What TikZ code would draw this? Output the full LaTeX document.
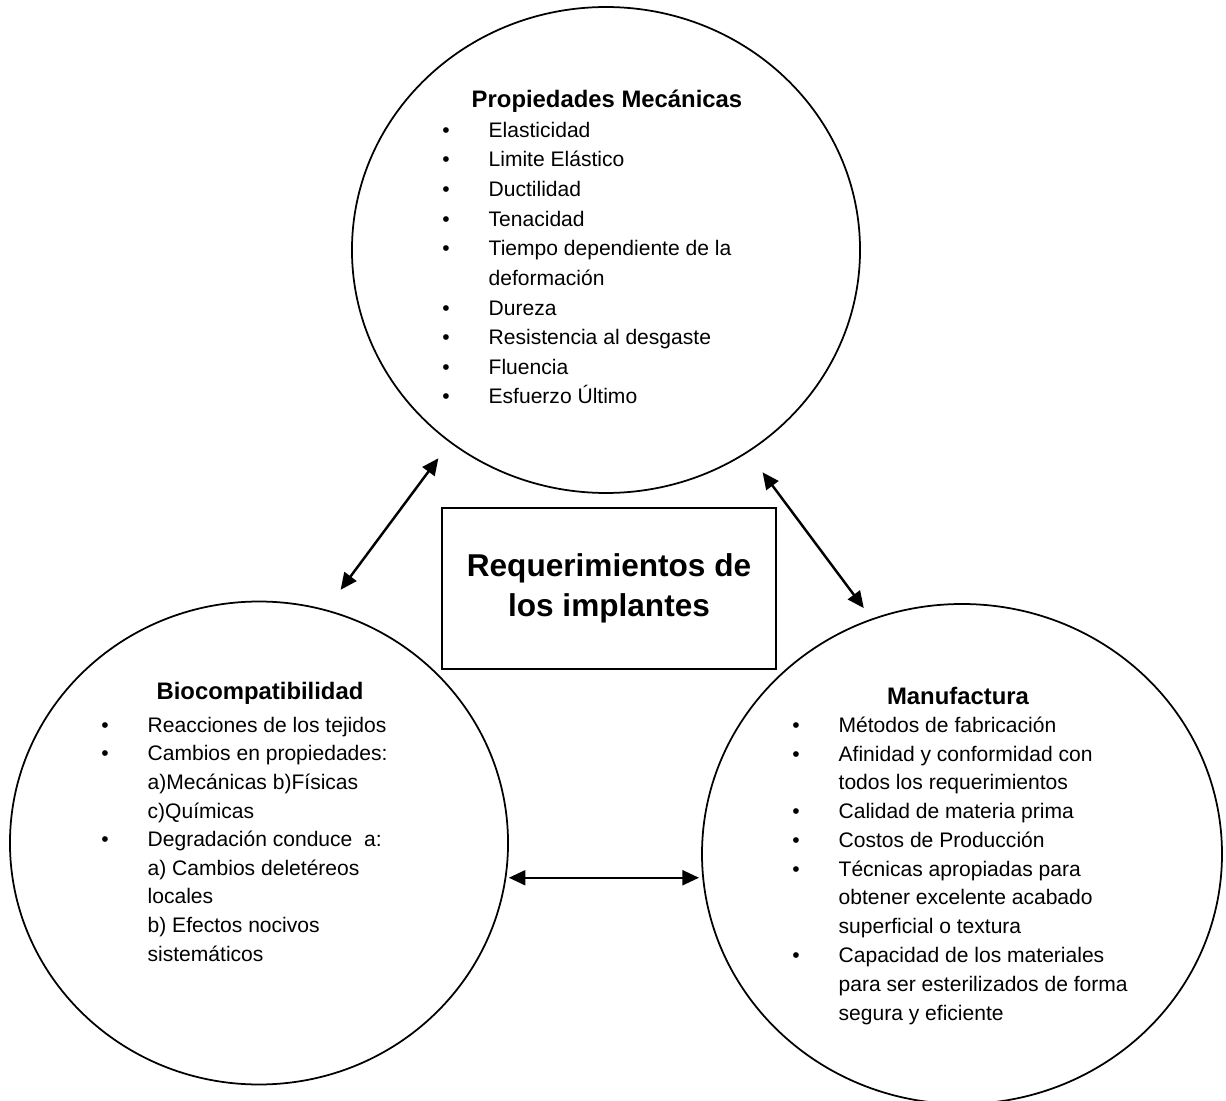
\documentclass[tikz,border=0pt]{standalone}
\usepackage{fontspec}
\setmainfont{Liberation Sans}
\usetikzlibrary{shapes.geometric, arrows.meta, positioning}

\newcommand{\blt}{\makebox[26.4pt][l]{\textbullet}}
\newcommand{\ind}{\hspace*{26.4pt}}

\begin{document}
\begin{tikzpicture}[x=0.57pt, y=-0.57pt,
    oval/.style={draw, ellipse, line width=1pt, inner sep=0pt},
    head/.style={font=\fontsize{13.6}{16}\selectfont\bfseries, inner sep=0pt, anchor=base},
    items/.style={align=left, inner sep=0pt, anchor=base west},
    link/.style={{Triangle[length=9.5pt,width=8.5pt]}-{Triangle[length=9.5pt,width=8.5pt]}, line width=1.4pt}]
    \useasboundingbox (0,0) rectangle (1226,1101);

    % Define the three ovals
    \node[oval, minimum width=289.6pt, minimum height=277pt] (mec) at (606,250) {};
    \node[oval, minimum width=283.9pt, minimum height=275.3pt] (bio) at (259,843) {};
    \node[oval, minimum width=296.4pt, minimum height=285pt] (man) at (962,854) {};

    % Central box
    \node[draw, line width=1pt, minimum width=190.4pt, minimum height=91.8pt, align=center,
          font=\fontsize{18}{22.8}\selectfont\bfseries] (req) at (609,588.5)
          {Requerimientos de\\los implantes};

    % Titles
    \node[head] (mecTitle) at (607,108) {Propiedades Mecánicas};
    \node[head] (bioTitle) at (260,699) {Biocompatibilidad};
    \node[head] (manTitle) at (958,704) {Manufactura};

    % Lists (the base anchor sits on the last line)
    \node[items, font=\fontsize{12}{16.9}\selectfont] (mecList) at (442,404) {
    \blt Elasticidad\\
    \blt Limite Elástico\\
    \blt Ductilidad\\
    \blt Tenacidad\\
    \blt Tiempo dependiente de la\\
    \ind deformación\\
    \blt Dureza\\
    \blt Resistencia al desgaste\\
    \blt Fluencia\\
    \blt Esfuerzo Último};

    \node[items, font=\fontsize{12}{16.3}\selectfont] (bioList) at (101,961) {
    \blt Reacciones de los tejidos\\
    \blt Cambios en propiedades:\\
    \ind a)Mecánicas b)Físicas\\
    \ind c)Químicas\\
    \blt Degradación conduce\ \ a:\\
    \ind a) Cambios deletéreos\\
    \ind locales\\
    \ind b) Efectos nocivos\\
    \ind sistemáticos};

    \node[items, font=\fontsize{12}{16.4}\selectfont] (manList) at (792,1020) {
    \blt Métodos de fabricación\\
    \blt Afinidad y conformidad con\\
    \ind todos los requerimientos\\
    \blt Calidad de materia prima\\
    \blt Costos de Producción\\
    \blt Técnicas apropiadas para\\
    \ind obtener excelente acabado\\
    \ind superficial o textura\\
    \blt Capacidad de los materiales\\
    \ind para ser esterilizados de forma\\
    \ind segura y eficiente};

    % Double arrows between the ovals
    \draw[link, shorten <=14pt, shorten >=11pt] (bio.74.7) -- (mec.231.9);
    \draw[link, shorten <=14pt, shorten >=7.5pt] (mec.305.5) -- (man.111.6);
    \draw[link, shorten <=1.4pt, shorten >=1.2pt] (bio.-8.8) -- (bio.-8.8 -| man.west);
\end{tikzpicture}
\end{document}
